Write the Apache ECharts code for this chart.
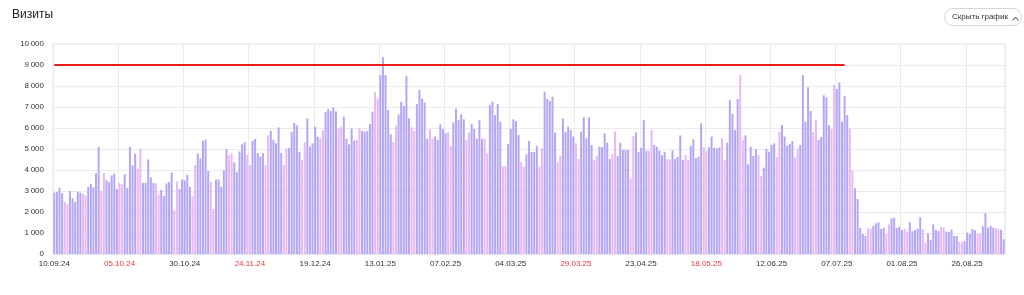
<!DOCTYPE html>
<html><head><meta charset="utf-8">
<script src="https://cdn.jsdelivr.net/npm/echarts@6/dist/echarts.min.js"></script>
<style>html,body{margin:0;padding:0;background:#fff;}#c{width:1024px;height:295px;}</style>
</head><body><div id="c"></div>
<script>
const startDate = '2024-09-10';
const dayCount = 365;
const visits = [
2920,2950,3150,2900,2480,2370,3000,2650,2480,2970,
2920,2860,2780,3200,3330,3170,3850,5100,3000,3850,
3520,3430,3740,3840,3090,3380,3330,3800,3140,5100,
4220,4770,4060,5030,3390,3390,4500,3650,3380,3360,
2840,3050,2760,3360,3420,3880,2080,3450,3100,3550,
3500,3760,3200,2740,4240,4790,4540,5390,5450,3950,
3440,2150,3550,3550,3200,3980,5000,4720,4790,4360,
3900,4880,5220,5320,4710,4240,5380,5480,4800,4640,
4800,4240,5650,5870,5430,5270,6030,4810,4240,5030,
5050,5810,6240,6130,4870,4480,5320,6460,5110,5270,
6060,5590,5510,5900,6750,6900,6810,6980,6790,5980,
6060,6540,5480,5220,5980,5400,5430,5980,5860,5830,
5860,6190,6780,7700,7410,8520,9370,8520,6860,5700,
5330,6110,6650,7250,7050,8480,6460,6030,5860,7140,
7810,7400,7210,5490,5950,5510,5590,5430,6170,5950,
5750,5810,5140,6270,6920,6380,6650,6410,5430,5790,
6190,5950,5490,6380,5490,5490,4790,7100,7250,6620,
7140,6300,4160,4190,5240,5950,6410,6330,5670,4370,
4160,4750,5380,4860,4860,5140,4160,5030,7730,7380,
7290,7490,5780,4370,4670,6460,5810,6060,5900,5590,
5270,4520,5830,6510,5510,6510,5190,4480,4680,5110,
5080,5750,5300,4520,4750,5830,4670,5300,4950,4950,
4950,3600,5620,5790,4860,5060,6380,4920,4920,5900,
5190,5110,4920,4700,4870,4510,4510,4940,4520,4620,
5650,4480,4710,4480,5140,5460,4570,4630,6220,5080,
4900,5080,5590,5050,5030,5080,5510,4480,5300,7330,
6670,5900,7380,8520,5430,5650,4270,5110,4670,5000,
4710,3710,4110,5000,4870,5190,5270,4620,5830,6140,
5590,5160,5240,5380,4590,5030,5190,8520,6300,7940,
6810,5800,6410,5430,5560,7560,7460,6140,5940,8050,
7860,8170,6300,7520,6620,5970,4000,3130,2620,1240,
950,860,1210,1210,1330,1460,1510,1190,1250,950,
1400,1700,1730,1240,1290,1140,1210,1080,1520,1080,
1140,1210,1750,1190,540,980,670,1410,1140,1100,
1300,1270,1060,1060,1170,860,860,570,560,620,
1020,950,1190,1130,950,950,1320,1950,1250,1330,
1250,1240,1170,1160,700
];
const targetValue = 9000;
const targetStart = '10.09.24';
const targetEnd = '10.07.25';
const yTicks = [0,1000,2000,3000,4000,5000,6000,7000,8000,9000,10000];

// build categories (dd.mm.yy) and weekend flags from the date range
const categories = [];
const weekend = [];
(function(){
  const d0 = new Date(startDate + 'T12:00:00Z');
  for (let i = 0; i < dayCount; i++) {
    const d = new Date(d0.getTime() + i * 86400000);
    const dd = String(d.getUTCDate()).padStart(2,'0');
    const mm = String(d.getUTCMonth()+1).padStart(2,'0');
    const yy = String(d.getUTCFullYear()).slice(2);
    categories.push(dd + '.' + mm + '.' + yy);
    const wd = d.getUTCDay();
    weekend.push(wd === 0 || wd === 6);
  }
})();

const COL_WD = '#b3a6f6';
const COL_WE = '#e8b7f4';
const FONT = '"Liberation Sans", Arial, sans-serif';

const chart = echarts.init(document.getElementById('c'), null, {renderer:'canvas'});
chart.setOption({
  animation: false,
  textStyle: {fontFamily: FONT},
  title: {
    text: 'Визиты', left: 12, top: 9, padding: 0,
    textStyle: {fontSize: 12, fontWeight: 'normal', color: '#222', fontFamily: FONT}
  },
  graphic: [
    {type: 'rect', left: 944, top: 8, shape: {width: 77, height: 17, r: 8.5},
     style: {fill: '#fff', stroke: '#d6d6d6', lineWidth: 1}},
    {type: 'text', left: 952, top: 12.5,
     style: {text: 'Скрыть график', fontSize: 8, fill: '#333', fontFamily: FONT}},
    {type: 'polyline', left: 1010, top: 14.5,
     shape: {points: [[0,3.5],[3,0],[6,3.5]]},
     style: {stroke: '#444', lineWidth: 1, fill: null}}
  ],
  grid: {left: 53, right: 19, top: 44, bottom: 41, show: true, borderColor: '#e6e6e6', borderWidth: 1},
  xAxis: {
    type: 'category', data: categories, boundaryGap: true,
    axisLine: {show: true, lineStyle: {color: '#e6e6e6'}},
    axisTick: {show: false},
    splitLine: {show: true, interval: 24, lineStyle: {color: '#ebebeb', width: 1}},
    axisLabel: {
      interval: 24, fontSize: 8, margin: 6, hideOverlap: false,
      color: function(value, index) {
        const i = categories.indexOf(value);
        return (i >= 0 && weekend[i]) ? '#e0393e' : '#333';
      }
    }
  },
  yAxis: {
    type: 'value', min: yTicks[0], max: yTicks[yTicks.length-1], interval: 1000,
    axisLine: {show: false}, axisTick: {show: false},
    splitLine: {lineStyle: {color: '#ebebeb', width: 1}},
    axisLabel: {
      fontSize: 8, color: '#333', margin: 9,
      formatter: function(v){ return v >= 1000 ? (Math.floor(v/1000) + '\u2009' + String(v%1000).padStart(3,'0')) : String(v); }
    }
  },
  series: [{
    type: 'bar', barWidth: '76%',
    data: visits.map((v, i) => ({value: v, itemStyle: {color: weekend[i] ? COL_WE : COL_WD}})),
    markLine: {
      silent: true, symbol: 'none', label: {show: false},
      lineStyle: {color: '#ee1b1b', width: 2, type: 'solid'},
      data: [[{coord: [targetStart, targetValue]}, {coord: [targetEnd, targetValue]}]]
    }
  }]
});
</script>
</body></html>
